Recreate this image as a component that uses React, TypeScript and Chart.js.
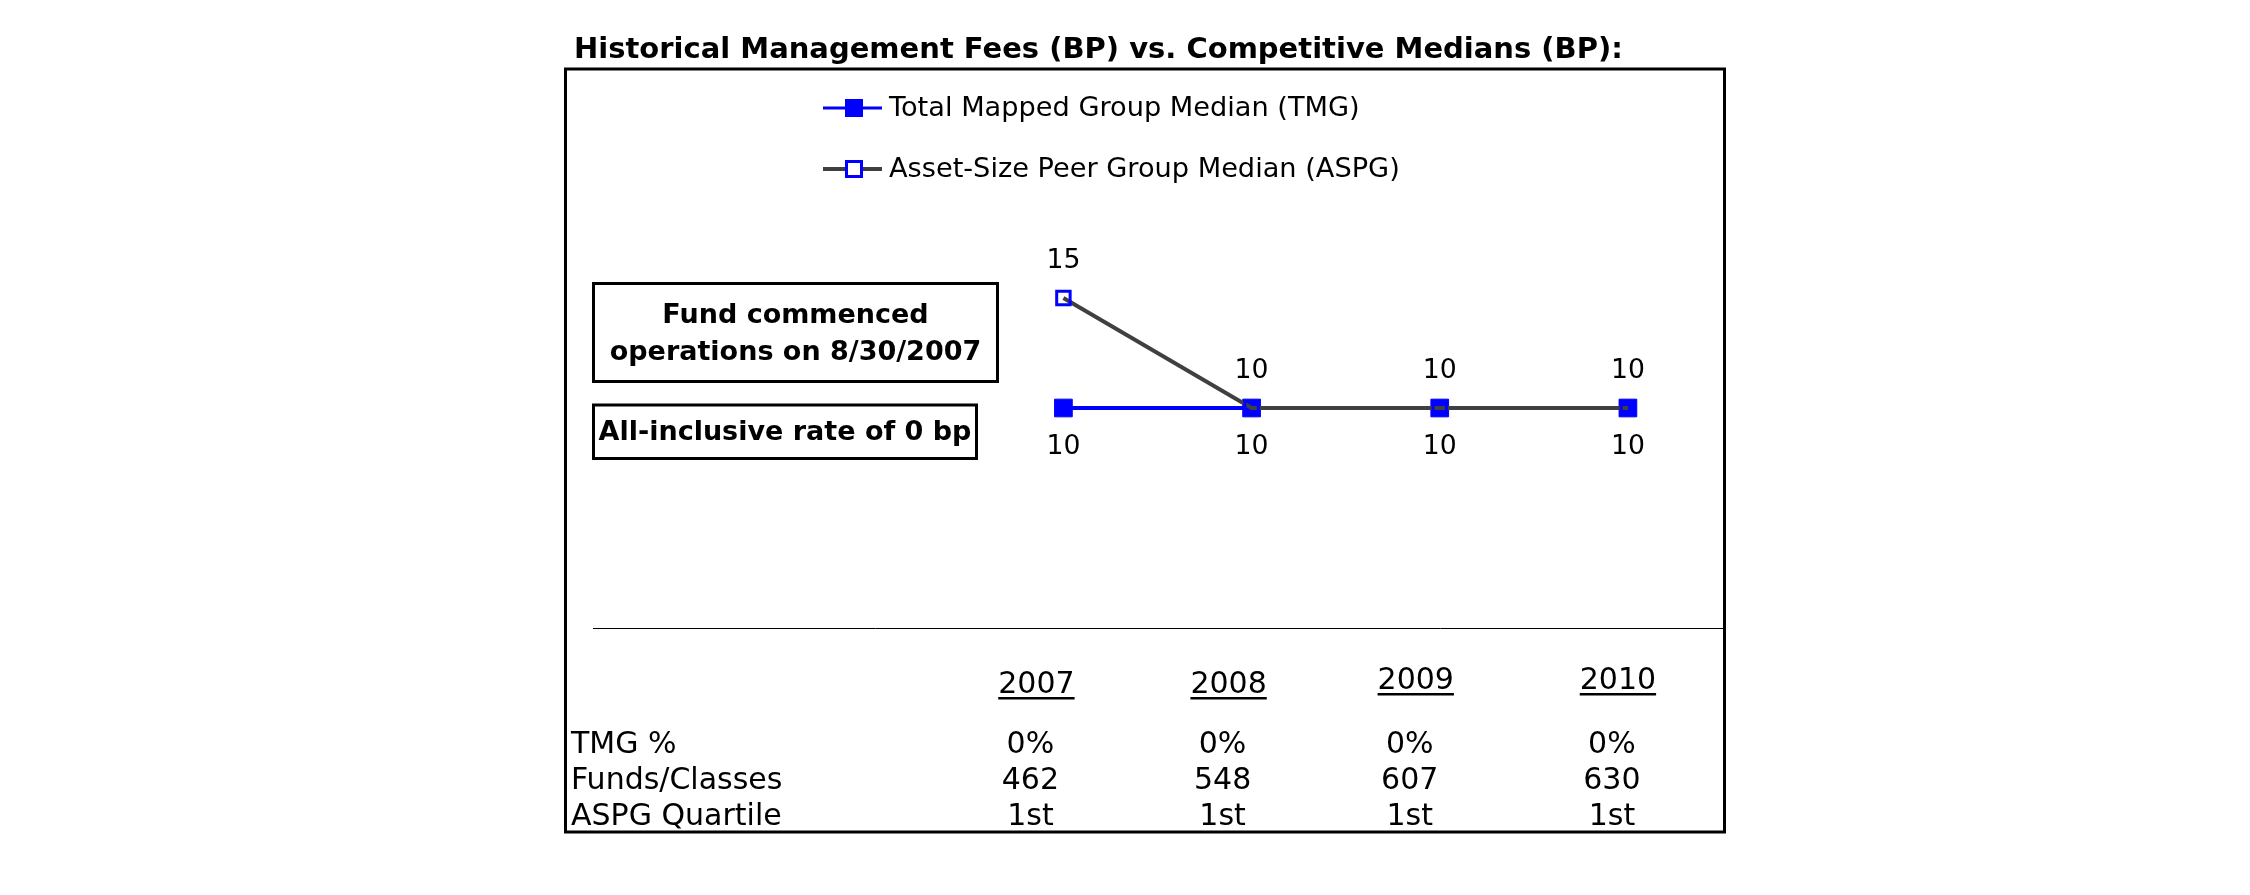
import React, { useEffect, useRef } from 'react';
import { Chart, registerables } from 'chart.js';

Chart.register(...registerables);

// ---- data ----
const categories = ['', '', '2007', '2008', '2009', '2010'];
const tmgMedian = [null, null, 10, 10, 10, 10];
const aspgMedian = [null, null, 15, 10, 10, 10];
const tableYears = ['2007', '2008', '2009', '2010'];
const tmgPercent = ['0%', '0%', '0%', '0%'];
const fundsClasses = ['462', '548', '607', '630'];
const aspgQuartile = ['1st', '1st', '1st', '1st'];
const rowLabels = ['TMG %', 'Funds/Classes', 'ASPG Quartile'];
const titleText = 'Historical Management Fees (BP) vs. Competitive Medians (BP):';
const noteLines = ['Fund commenced', 'operations on 8/30/2007'];
const rateNote = 'All-inclusive rate of 0 bp';
const seriesNames = ['Total Mapped Group Median (TMG)', 'Asset-Size Peer Group Median (ASPG)'];

// ---- layout / style ----
const FONT = '"DejaVu Sans", Verdana, sans-serif';
const BLUE = '#0000FF';
const GRAY = '#404040';
const tableColShift = [-27, -23, -24, -10];
const headerYShift = [3, 3, -1, -1];

const decorPlugin = {
  id: 'decor',
  beforeDraw(chart: any) {
    const ctx = chart.ctx;
    ctx.save();
    ctx.fillStyle = '#fff';
    ctx.fillRect(0, 0, chart.width, chart.height);
    ctx.fillStyle = '#000';
    ctx.font = `bold 29px ${FONT}`;
    ctx.textAlign = 'left';
    ctx.textBaseline = 'alphabetic';
    ctx.fillText(titleText, 574, 58);

    ctx.strokeStyle = '#000';
    ctx.lineWidth = 3;
    ctx.strokeRect(565.5, 69, 1159, 763);

    // note boxes
    ctx.strokeRect(593.5, 283.5, 404, 98);
    ctx.strokeRect(593.5, 405, 383, 53.5);
    ctx.font = `bold 27px ${FONT}`;
    ctx.textAlign = 'center';
    ctx.textBaseline = 'middle';
    ctx.fillText(noteLines[0], 795.5, 316);
    ctx.fillText(noteLines[1], 795.5, 353);
    ctx.fillText(rateNote, 785, 433);
    ctx.restore();
  },
  afterDraw(chart: any) {
    const ctx = chart.ctx;
    ctx.save();
    // legend
    const legendY = [108, 169];
    const styles = [
      { color: BLUE, width: 3, filled: true },
      { color: GRAY, width: 4, filled: false },
    ];
    ctx.font = `27.2px ${FONT}`;
    ctx.textAlign = 'left';
    ctx.textBaseline = 'middle';
    seriesNames.forEach((name, i) => {
      const y = legendY[i];
      const s = styles[i];
      ctx.strokeStyle = s.color;
      ctx.lineWidth = s.width;
      ctx.beginPath();
      ctx.moveTo(823, y);
      ctx.lineTo(882, y);
      ctx.stroke();
      if (s.filled) {
        ctx.fillStyle = BLUE;
        ctx.fillRect(845, y - 9, 18, 18);
      } else {
        ctx.fillStyle = '#fff';
        ctx.fillRect(846, y - 8, 16, 16);
        ctx.strokeStyle = BLUE;
        ctx.lineWidth = 3;
        ctx.strokeRect(846.5, y - 7.5, 15, 15);
      }
      ctx.fillStyle = '#000';
      ctx.fillText(name, 889, y + 1);
    });

    // data labels
    ctx.font = `26.7px ${FONT}`;
    ctx.textAlign = 'center';
    ctx.fillStyle = '#000';
    chart.data.datasets.forEach((ds: any, di: number) => {
      const meta = chart.getDatasetMeta(di);
      meta.data.forEach((pt: any, i: number) => {
        const v = ds.data[i];
        if (v === null || v === undefined) return;
        const dy = ds.labelPos === 'above' ? -37 : 39;
        ctx.fillText(String(v), pt.x, pt.y + dy);
      });
    });

    // table
    const xs = chart.scales.x;
    ctx.font = `30px ${FONT}`;
    ctx.textBaseline = 'middle';
    ctx.textAlign = 'left';
    const rowY = [745, 781, 817];
    rowLabels.forEach((l, r) => ctx.fillText(l, 571, rowY[r]));
    ctx.textAlign = 'center';
    const rows = [tmgPercent, fundsClasses, aspgQuartile];
    tableYears.forEach((yr, j) => {
      const idx = categories.indexOf(yr);
      const cx = xs.getPixelForValue(idx) + tableColShift[j];
      const hy = 682 + headerYShift[j];
      ctx.fillText(yr, cx, hy);
      const w = ctx.measureText(yr).width;
      ctx.fillRect(cx - w / 2, hy + 12, w, 2.5);
      rows.forEach((row, r) => ctx.fillText(row[j], cx - 6, rowY[r]));
    });
    ctx.restore();
  },
};

export default function App() {
  const ref = useRef<HTMLCanvasElement | null>(null);
  useEffect(() => {
    document.body.style.margin = '0';
    const canvas = ref.current!;
    const chart = new Chart(canvas, {
      type: 'line',
      data: {
        labels: categories,
        datasets: [
          {
            label: seriesNames[0],
            data: tmgMedian,
            borderColor: BLUE,
            borderWidth: 4,
            pointStyle: 'rect',
            pointRadius: 12.5,
            pointHoverRadius: 12.5,
            pointBackgroundColor: BLUE,
            pointBorderColor: BLUE,
            pointBorderWidth: 1,
            order: 2,
            labelPos: 'below',
          } as any,
          {
            label: seriesNames[1],
            data: aspgMedian,
            borderColor: GRAY,
            borderWidth: 4,
            pointStyle: 'rect',
            pointRadius: 9.5,
            pointHoverRadius: 9.5,
            pointBackgroundColor: 'rgba(0,0,0,0)',
            pointBorderColor: BLUE,
            pointBorderWidth: 3,
            order: 1,
            labelPos: 'above',
          } as any,
        ],
      },
      options: {
        responsive: false,
        animation: false,
        devicePixelRatio: 1,
        layout: { padding: { left: 593, right: 528, top: 188, bottom: 267 } },
        plugins: { legend: { display: false }, title: { display: false }, tooltip: { enabled: false } },
        scales: {
          x: {
            type: 'category',
            offset: true,
            grid: { display: false, drawTicks: false },
            ticks: { display: false },
            border: { display: true, color: '#000', width: 1 },
          },
          y: { display: false, min: 0, max: 20 },
        },
      },
      plugins: [decorPlugin],
    });
    return () => chart.destroy();
  }, []);
  return <canvas ref={ref} width={2250} height={895} style={{ display: 'block' }} />;
}
